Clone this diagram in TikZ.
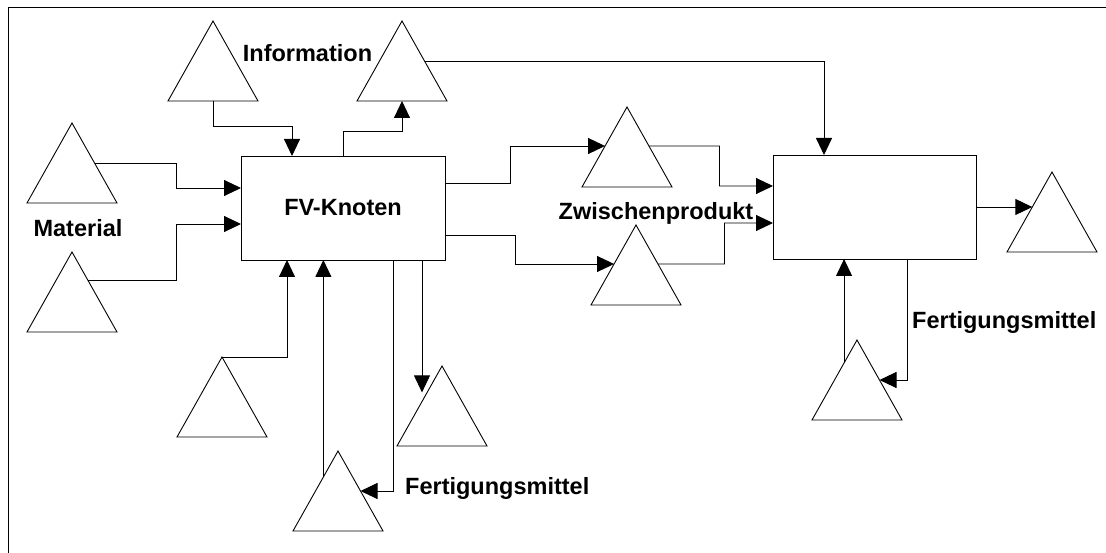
\documentclass[tikz,border=0pt]{standalone}
\usepackage{fontspec}
\setmainfont{Liberation Sans}
\usetikzlibrary{arrows.meta,calc}
\newcommand\lblfont{\fontsize{23.5}{28}\selectfont\bfseries}
\tikzset{
  conn/.style={line width=0.9pt, -{Triangle[length=17pt,width=16pt]}},
  plain/.style={line width=0.9pt},
  trishape/.style={draw, line width=0.9pt, line join=miter},
  box/.style={draw, line width=0.9pt, inner sep=0pt, outer sep=0pt, font=\lblfont},
  lbl/.style={font=\lblfont, inner sep=0pt, anchor=base},
}
% triangle: name, apex x, apex y (image pixels, y downward)
\newcommand\mytri[3]{%
  \coordinate (#1-a) at (#2,#3);
  \coordinate (#1-l) at ({#2-45},{#3+80});
  \coordinate (#1-r) at ({#2+45},{#3+80});
  \coordinate (#1-b) at (#2,{#3+80});
  \draw[trishape] (#1-a) -- (#1-r) -- (#1-l) -- cycle;
}
\begin{document}
\begin{tikzpicture}[x=1pt,y=-1pt]
\useasboundingbox (0,0) rectangle (1106,553);
% frame
\draw[plain] (8,553) -- (8,7) -- (1106,7);

% boxes
\node[box, minimum width=204, minimum height=104] (fv) at (343,208) {FV-Knoten};
\node[box, minimum width=203, minimum height=104] (b2) at (874.5,207) {};

% triangles
\mytri{ta}{213}{21}
\mytri{tb}{402}{21}
\mytri{tc}{72}{123}
\mytri{td}{72}{252}
\mytri{te}{222}{357}
\mytri{tf}{338}{451}
\mytri{tg}{442}{366}
\mytri{th}{627}{107}
\mytri{ti}{636}{225}
\mytri{tj}{1052}{172}
\mytri{tk}{857}{340}

% labels
\node[lbl] (linfo) at (307.5,62) {Information};
\node[lbl] (lmat) at (78,237) {Material};
\node[lbl] (lzw) at (656,219.5) {Zwischenprodukt};
\node[lbl, anchor=base west] (lfm1) at (405,494) {Fertigungsmittel};
\node[lbl, anchor=base west] (lfm2) at (912,329) {Fertigungsmittel};

% connectors around FV-Knoten
\draw[conn] (ta-b) -- ++(0,25) -| ([xshift=-51pt]fv.north);
\draw[conn] (fv.north) -- ++(0,-25) -| (tb-b);
\draw[conn] ($(tb-a)!0.5!(tb-r)$) -| ([xshift=-50.5pt]b2.north);
\draw[conn] ($(tc-a)!0.5!(tc-r)$) -| (176,188) -- ([yshift=20pt]fv.west);
\draw[conn] ($(td-a)!0.35!(td-r)$) -| (176,224) -- ([yshift=-16pt]fv.west);
\draw[conn] (te-a) -| ([xshift=-56pt]fv.south);
\coordinate (pf) at ($(tf-a)!0.325!(tf-l)$);
\draw[conn] (pf) -- (pf |- fv.south);
\draw[conn] ([xshift=50pt]fv.south) |- ($(tf-a)!0.5!(tf-r)$);
\coordinate (pg) at ($(tg-a)!0.33!(tg-l)$);
\draw[conn] ([xshift=79pt]fv.south) -- ([xshift=79pt]fv.south |- pg);

% Zwischenprodukt paths
\draw[conn] ([yshift=25pt]fv.east) -- (510,183) |- ($(th-a)!0.4875!(th-l)$);
\draw[conn] ($(th-a)!0.4875!(th-r)$) -- (719.5,146) |- ([yshift=21pt]b2.west);
\draw[conn] ([yshift=-27pt]fv.east) -- (515,235) |- ($(ti-a)!0.4875!(ti-l)$);
\draw[conn] ($(ti-a)!0.4875!(ti-r)$) -- (724.5,264) |- ([yshift=-16pt]b2.west);

% right box
\draw[conn] (b2.east) -- ($(tj-a)!0.4375!(tj-l)$);
\coordinate (pk) at ($(tk-a)!0.2875!(tk-l)$);
\draw[conn] (pk) -- (pk |- b2.south);
\draw[conn] ([xshift=32.5pt]b2.south) |- ($(tk-a)!0.5!(tk-r)$);
\end{tikzpicture}
\end{document}
